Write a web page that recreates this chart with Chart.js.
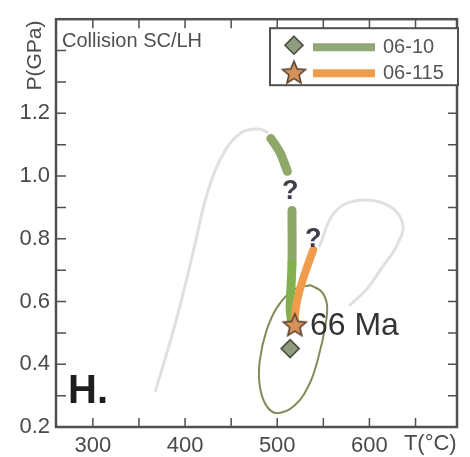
<!DOCTYPE html>
<html>
<head>
<meta charset="utf-8">
<title>P-T path H.</title>
<script src="https://cdn.jsdelivr.net/npm/chart.js@4.4.0/dist/chart.umd.min.js"></script>
<style>
  html, body { margin: 0; padding: 0; background: #fff; }
  #wrap { width: 470px; height: 457px; }
</style>
</head>
<body>
<div id="wrap"><canvas id="chart" width="470" height="457"></canvas></div>
<script>
'use strict';

// ─── Datos ───────────────────────────────────────────────────────────────────

const xTicks  = [260, 300, 350, 400, 450, 500, 550, 600, 650, 695];
const xLabels = [300, 400, 500, 600];
const yTicks  = [0.2, 0.3, 0.4, 0.5, 0.6, 0.7, 0.8, 0.9, 1.0, 1.1, 1.2, 1.3, 1.4, 1.5];
const yLabels = [0.2, 0.4, 0.6, 0.8, 1.0, 1.2];

// campo gris izquierdo
const grayLeftT = [368, 386, 400, 411, 425, 443, 461, 480, 489];
const grayLeftP = [0.316, 0.494, 0.650, 0.786, 0.953, 1.079, 1.138, 1.150, 1.140];

// campo gris derecho
const grayRightT = [546, 561, 583, 618, 636, 630, 615, 597, 579];
const grayRightP = [0.777, 0.880, 0.920, 0.910, 0.850, 0.780, 0.714, 0.639, 0.589];

// elipse de error (cerrada)
const ellT = [536, 548, 554, 552, 545, 535, 519, 500, 488, 481, 481, 488, 500, 518, 536];
const ellP = [0.652, 0.632, 0.589, 0.520, 0.426, 0.338, 0.269, 0.244, 0.269, 0.332, 0.410, 0.504, 0.582, 0.638, 0.652];

// trayectoria 06-10 (null = hueco del "?")
const path10T = [493, 503, 511, 512, 516, 516, 514, 516];
const path10P = [1.12, 1.075, 1.015, null, 0.89, 0.72, 0.575, 0.53];

// trayectoria 06-115
const path115T = [539, 530, 522, 519, 519];
const path115P = [0.764, 0.690, 0.610, 0.550, 0.526];

// muestras
const sample10  = { T: 514, P: 0.45 };
const sample115 = { T: 519, P: 0.526 };

const seriesNames = ['06-10', '06-115'];

// ─── Colores ─────────────────────────────────────────────────────────────────

const C = {
  text:   '#4a4a4a',
  frame:  '#505050',
  gray:   '#e0e0e0',
  olive:  '#7f8d58',
  green:  '#8ea86a',
  green2: '#82b04e',
  greenL: '#8fa677',
  orange: '#ef9d4c',
  star:   '#d5925a',
  starB:  '#5c4330',
  diam:   '#8f9c80',
  diamB:  '#4a4d40',
};
const FONT = "'Liberation Sans', Arial, sans-serif";

// ─── Helpers ─────────────────────────────────────────────────────────────────

function pts(T, P) {
  return T.map(function(t, i) { return { x: t, y: P[i] }; });
}

function makeStar(r) {
  const s = Math.ceil(r * 2 + 4);
  const cv = document.createElement('canvas');
  cv.width = s; cv.height = s;
  const c = cv.getContext('2d');
  c.beginPath();
  for (let i = 0; i < 10; i++) {
    const rad = i % 2 === 0 ? r : r * 0.45;
    const a = -Math.PI / 2 + i * Math.PI / 5;
    const px = s / 2 + rad * Math.cos(a);
    const py = s / 2 + 1 + rad * Math.sin(a);
    if (i === 0) c.moveTo(px, py); else c.lineTo(px, py);
  }
  c.closePath();
  c.fillStyle = C.star;
  c.fill();
  c.lineWidth = 1.6;
  c.strokeStyle = C.starB;
  c.stroke();
  return cv;
}

const starImg = makeStar(12);

function drawDiamond(ctx, x, y, r) {
  ctx.beginPath();
  ctx.moveTo(x, y - r); ctx.lineTo(x + r, y); ctx.lineTo(x, y + r); ctx.lineTo(x - r, y);
  ctx.closePath();
  ctx.fillStyle = C.diam; ctx.fill();
  ctx.lineWidth = 1.6; ctx.strokeStyle = C.diamB; ctx.stroke();
}

// ─── Plugins: marco con ticks hacia dentro + textos + leyenda ────────────────

const marco = {
  id: 'marco',
  afterDatasetsDraw(chart) {
    const ctx = chart.ctx, a = chart.chartArea;
    const x = chart.scales.x, y = chart.scales.y;
    ctx.save();
    ctx.strokeStyle = C.frame;
    ctx.lineWidth = 1.5;
    ctx.beginPath();
    x.ticks.forEach(function(t) {
      if (t.value <= x.min || t.value >= x.max) return;
      const px = x.getPixelForValue(t.value);
      ctx.moveTo(px, a.bottom); ctx.lineTo(px, a.bottom - 9);
      ctx.moveTo(px, a.top);    ctx.lineTo(px, a.top + 9);
    });
    y.ticks.forEach(function(t) {
      if (t.value <= y.min || t.value >= y.max) return;
      const py = y.getPixelForValue(t.value);
      ctx.moveTo(a.left, py);  ctx.lineTo(a.left + 10, py);
      ctx.moveTo(a.right, py); ctx.lineTo(a.right - 9, py);
    });
    ctx.stroke();
    ctx.lineWidth = 2.5;
    ctx.strokeRect(a.left, a.top, a.width, a.height);
    ctx.restore();
  },
  afterDraw(chart) {
    const ctx = chart.ctx, a = chart.chartArea;
    const x = chart.scales.x, y = chart.scales.y;
    ctx.save();

    // textos de los ejes
    ctx.fillStyle = C.text;
    ctx.font = '22px ' + FONT;
    ctx.textAlign = 'center';
    ctx.textBaseline = 'top';
    ctx.fillText('T(°C)', x.getPixelForValue(666), a.bottom + 6);

    ctx.save();
    ctx.translate(a.left - 21, y.getPixelForValue(1.4) + 5);
    ctx.rotate(-Math.PI / 2);
    ctx.font = '21px ' + FONT;
    ctx.textBaseline = 'middle';
    ctx.fillText('P(GPa)', 0, 0);
    ctx.restore();

    // anotaciones
    ctx.textAlign = 'left';
    ctx.textBaseline = 'alphabetic';
    ctx.font = '20px ' + FONT;
    ctx.fillStyle = '#505050';
    ctx.fillText('Collision SC/LH', a.left + 6, a.top + 28);

    ctx.font = 'bold 40px ' + FONT;
    ctx.fillStyle = '#1e1e1e';
    ctx.fillText('H.', a.left + 12, a.bottom - 24);

    ctx.font = 'bold 27px ' + FONT;
    ctx.fillStyle = '#3e3e4c';
    ctx.textAlign = 'center';
    ctx.textBaseline = 'middle';
    ctx.fillText('?', x.getPixelForValue(514), y.getPixelForValue(0.952));
    ctx.fillText('?', x.getPixelForValue(539), y.getPixelForValue(0.799));

    ctx.font = '32px ' + FONT;
    ctx.fillStyle = '#333';
    ctx.textAlign = 'left';
    ctx.fillText('66 Ma', x.getPixelForValue(535.5), y.getPixelForValue(0.52));

    // leyenda
    const bx = a.right - 187, by = a.top + 9, bw = 188, bh = 57;
    ctx.fillStyle = '#fff';
    ctx.fillRect(bx, by, bw, bh);
    ctx.lineWidth = 2;
    ctx.strokeStyle = C.frame;
    ctx.strokeRect(bx, by, bw, bh);

    const rows = [by + 18, by + 44];
    const lineCols = [C.greenL, C.orange];
    ctx.lineCap = 'butt';
    rows.forEach(function(ry, i) {
      ctx.strokeStyle = lineCols[i];
      ctx.lineWidth = 8;
      ctx.beginPath();
      ctx.moveTo(bx + 43, ry + 1); ctx.lineTo(bx + 105, ry + 1);
      ctx.stroke();
      ctx.fillStyle = '#555';
      ctx.font = '20px ' + FONT;
      ctx.textAlign = 'left';
      ctx.textBaseline = 'middle';
      ctx.fillText(seriesNames[i], bx + 113, ry + 1);
    });
    drawDiamond(ctx, bx + 24, rows[0] - 1, 9);
    ctx.drawImage(starImg, bx + 24 - starImg.width / 2, rows[1] - starImg.height / 2);

    ctx.restore();
  }
};

// ─── Grafica ─────────────────────────────────────────────────────────────────

const lineBase = {
  showLine: true,
  pointRadius: 0,
  pointHoverRadius: 0,
  spanGaps: false,
  borderCapStyle: 'round',
  borderJoinStyle: 'round',
  tension: 0.4,
};

new Chart(document.getElementById('chart').getContext('2d'), {
  type: 'scatter',
  data: {
    datasets: [
      Object.assign({}, lineBase, {
        label: 'gris izq', data: pts(grayLeftT, grayLeftP),
        borderColor: C.gray, borderWidth: 3, order: 6,
      }),
      Object.assign({}, lineBase, {
        label: 'gris der', data: pts(grayRightT, grayRightP),
        borderColor: C.gray, borderWidth: 3, order: 6,
      }),
      Object.assign({}, lineBase, {
        label: 'elipse', data: pts(ellT, ellP),
        borderColor: C.olive, borderWidth: 2, order: 4,
      }),
      Object.assign({}, lineBase, {
        label: seriesNames[0], data: pts(path10T, path10P),
        borderColor: C.green, borderWidth: 9, order: 3, tension: 0.3,
        segment: {
          borderColor: function(ctx) { return ctx.p0.parsed.y < 0.8 ? C.green2 : undefined; },
        },
      }),
      Object.assign({}, lineBase, {
        label: seriesNames[1], data: pts(path115T, path115P),
        borderColor: C.orange, borderWidth: 8, order: 2, tension: 0.3,
      }),
      {
        label: seriesNames[0] + ' muestra', data: [{ x: sample10.T, y: sample10.P }],
        pointStyle: 'rectRot', pointRadius: 9, pointBackgroundColor: C.diam,
        pointBorderColor: C.diamB, pointBorderWidth: 1.6, order: 1,
      },
      {
        label: seriesNames[1] + ' muestra', data: [{ x: sample115.T, y: sample115.P }],
        pointStyle: starImg, pointRadius: 12, order: 0,
      },
    ],
  },
  options: {
    responsive: false,
    animation: false,
    events: [],
    layout: { padding: { top: 14, right: 8, left: 0, bottom: 0 } },
    plugins: { legend: { display: false }, tooltip: { enabled: false } },
    scales: {
      x: {
        type: 'linear', min: 260, max: 695,
        afterBuildTicks: function(s) { s.ticks = xTicks.map(function(v) { return { value: v }; }); },
        afterFit: function(s) { s.height = 30; },
        grid: { display: false, drawTicks: false },
        border: { display: false },
        ticks: {
          autoSkip: false, maxRotation: 0, padding: 6, color: C.text,
          font: { family: FONT, size: 22 },
          callback: function(v) { return xLabels.indexOf(v) >= 0 ? String(v) : ''; },
        },
      },
      y: {
        type: 'linear', min: 0.2, max: 1.5,
        afterBuildTicks: function(s) { s.ticks = yTicks.map(function(v) { return { value: v }; }); },
        afterFit: function(s) { s.width = 56; },
        grid: { display: false, drawTicks: false },
        border: { display: false },
        ticks: {
          autoSkip: false, padding: 6, color: C.text,
          font: { family: FONT, size: 22 },
          callback: function(v) {
            const r = Math.round(v * 10) / 10;
            return yLabels.indexOf(r) >= 0 ? r.toFixed(1) : '';
          },
        },
      },
    },
  },
  plugins: [marco],
});
</script>
</body>
</html>
